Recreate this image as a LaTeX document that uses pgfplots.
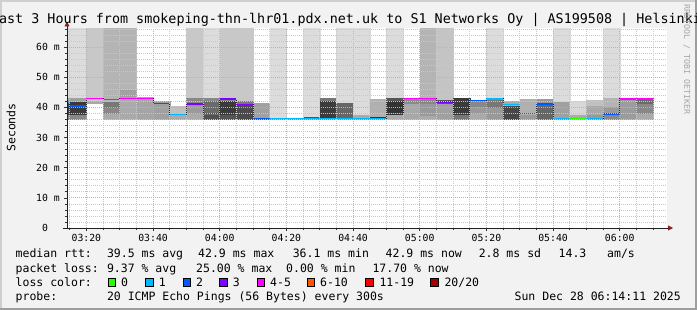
\documentclass[border=0pt]{standalone}
\usepackage{fontspec}
\usepackage{pgfplots}
\pgfplotsset{compat=1.18}
\usetikzlibrary{arrows.meta}
\newfontfamily\rrd{DejaVu Sans Mono}
\definecolor{bg}{RGB}{242,242,242}
\definecolor{shadeA}{RGB}{207,207,207}
\definecolor{shadeB}{RGB}{158,158,158}
\definecolor{arrowc}{RGB}{140,30,30}
\definecolor{mgrid}{RGB}{242,155,155}
\definecolor{ngrid}{RGB}{200,200,200}
\definecolor{l0}{HTML}{26FF00}
\definecolor{l1}{HTML}{00B8FF}
\definecolor{l2}{HTML}{0059FF}
\definecolor{l3}{HTML}{7E00FF}
\definecolor{l4}{HTML}{FF00FF}
\definecolor{l6}{HTML}{FF5500}
\definecolor{l11}{HTML}{FF0000}
\definecolor{l20}{HTML}{A10000}
% smoke band: x0 x1 lo hi gray(0-255)
\newcommand\B[5]{\addplot[forget plot,draw={rgb,255:red,#5;green,#5;blue,#5},line width=0.2pt,fill={rgb,255:red,#5;green,#5;blue,#5}] coordinates {(#1,#3) (#2,#3) (#2,#4) (#1,#4)};}
% median segment: x0 x1 value color
\newcommand\M[4]{\addplot[forget plot,color=#4,line width=1.6pt] coordinates {(#1,#3) (#2,#3)};}
\newcommand\tickfont{\rrd\fontsize{9.8pt}{11pt}\selectfont}
\newcommand\legfont{\rrd\fontsize{11.5pt}{13pt}\selectfont}
\begin{document}
\begin{tikzpicture}
\fill[bg] (0,0) rectangle (697pt,310pt);
\fill[shadeA] (0,0) rectangle (2pt,310pt);
\fill[shadeA] (0,308pt) rectangle (697pt,310pt);
\fill[shadeB] (695pt,0) rectangle (697pt,310pt);
\fill[shadeB] (0,0) rectangle (697pt,2pt);
\begin{axis}[
  at={(67pt,82pt)}, anchor=south west,
  width=600pt, height=200pt, scale only axis,
  xmin=14.18, xmax=194.18, ymin=0, ymax=66.3,
  axis lines=left, axis on top,
  axis background/.style={fill=white},
  x axis line style={draw={rgb,255:red,32;green,32;blue,32}, line width=0.8pt, -{Triangle[length=5pt,width=5pt,color=arrowc]}, shorten >=-6pt, shorten <=-4pt},
  y axis line style={draw={rgb,255:red,32;green,32;blue,32}, line width=0.8pt, -{Triangle[length=5pt,width=5pt,color=arrowc]}, shorten >=-6.5pt},
  xtick={20,40,...,180},
  xticklabels={\mbox{03:20},\mbox{03:40},\mbox{04:00},\mbox{04:20},\mbox{04:40},\mbox{05:00},\mbox{05:20},\mbox{05:40},\mbox{06:00}},
  minor xtick={15,25,30,35,45,50,55,65,70,75,85,90,95,105,110,115,125,130,135,145,150,155,165,170,175,185,190},
  ytick={0,10,...,60},
  yticklabels={\mbox{0\hphantom{\ m}},\mbox{10 m},\mbox{20 m},\mbox{30 m},\mbox{40 m},\mbox{50 m},\mbox{60 m}},
  minor ytick={2,4,6,8,12,14,16,18,22,24,26,28,32,34,36,38,42,44,46,48,52,54,56,58,62,64,66},
  grid=both,
  major grid style={draw=mgrid, line width=0.7pt, dash pattern=on 1pt off 1pt},
  minor grid style={draw=ngrid, line width=0.7pt, dash pattern=on 1pt off 1pt},
  tick style={draw=black!80, line width=0.6pt},
  major tick length=3pt, minor tick length=2pt, tick align=outside,
  xticklabel style={font=\tickfont, anchor=north, inner sep=0pt, yshift=-3pt},
  yticklabel style={font=\tickfont, anchor=east, inner sep=0pt, xshift=-4pt},
]
% ---- smoke ----
\B{14.18}{15}{36.1}{37.6}{136}\B{14.18}{15}{37.6}{42.2}{64}\B{14.18}{15}{42.2}{43.3}{160}\B{14.18}{15}{43.3}{66.3}{220}
\B{15}{20}{36.1}{37.6}{136}\B{15}{20}{37.6}{42.2}{58}\B{15}{20}{42.2}{43.3}{160}\B{15}{20}{43.3}{66.3}{220}
\B{20}{25}{41.4}{42.5}{168}\B{20}{25}{42.5}{66.3}{200}
\B{25}{30}{36.1}{38.0}{170}\B{25}{30}{38.0}{40.0}{136}\B{25}{30}{40.0}{42.2}{120}\B{25}{30}{42.2}{66.3}{180}
\B{30}{35}{36.1}{43.0}{170}\B{30}{35}{43.0}{46.1}{162}\B{30}{35}{46.1}{66.3}{180}
\B{35}{40}{36.1}{43.3}{165}
\B{40}{45}{36.1}{42.0}{160}
\B{45}{50}{36.1}{37.6}{170}\B{45}{50}{37.6}{40.3}{192}
\B{50}{55}{36.1}{38.0}{170}\B{50}{55}{38.0}{41.5}{154}\B{50}{55}{41.5}{43.3}{136}\B{50}{55}{43.3}{66.3}{200}
\B{55}{60}{36.1}{37.8}{80}\B{55}{60}{37.8}{42.5}{106}\B{55}{60}{42.5}{43.4}{136}\B{55}{60}{43.4}{66.3}{220}
\B{60}{65}{36.1}{37.6}{85}\B{60}{65}{37.6}{42.5}{58}\B{60}{65}{42.5}{43.3}{136}\B{60}{65}{43.3}{66.3}{200}
\B{65}{70}{36.1}{41.0}{74}\B{65}{70}{41.0}{42.5}{119}\B{65}{70}{42.5}{66.3}{200}
\B{70}{75}{36.1}{41.4}{160}
\B{75}{80}{36.1}{66.3}{220}
\B{85}{90}{36.1}{37.1}{85}\B{85}{90}{37.1}{66.3}{220}
\B{90}{95}{36.2}{42.5}{60}\B{90}{95}{42.5}{43.0}{119}
\B{95}{100}{36.2}{41.6}{102}\B{95}{100}{41.6}{66.3}{220}
\B{100}{105}{36.2}{37.6}{170}\B{100}{105}{37.6}{66.3}{220}
\B{105}{110}{36.2}{37.0}{51}\B{105}{110}{37.0}{42.8}{176}
\B{110}{115}{36.1}{37.8}{170}\B{110}{115}{37.8}{42.5}{51}\B{110}{115}{42.5}{43.4}{85}\B{110}{115}{43.4}{66.3}{220}
\B{115}{120}{36.1}{41.5}{168}\B{115}{120}{41.5}{42.9}{138}
\B{120}{125}{36.1}{37.5}{170}\B{120}{125}{37.5}{41.5}{153}\B{120}{125}{41.5}{42.9}{136}\B{120}{125}{42.9}{66.3}{180}
\B{125}{130}{36.1}{41.5}{160}\B{125}{130}{41.5}{42.8}{85}\B{125}{130}{42.8}{66.3}{196}
\B{130}{135}{36.1}{37.8}{119}\B{130}{135}{37.8}{43.1}{58}
\B{135}{140}{36.1}{38.0}{170}\B{135}{140}{38.0}{40.5}{153}\B{135}{140}{40.5}{42.2}{136}
\B{140}{145}{36.1}{40.0}{153}\B{140}{145}{40.0}{42.7}{119}\B{140}{145}{42.7}{66.3}{220}
\B{145}{150}{36.1}{40.9}{71}\B{145}{150}{40.9}{42.0}{170}
\B{150}{155}{36.1}{37.8}{153}\B{150}{155}{37.8}{42.8}{176}
\B{155}{160}{36.1}{41.0}{102}\B{155}{160}{41.0}{42.8}{153}
\B{160}{165}{36.2}{42.2}{160}\B{160}{165}{42.2}{66.3}{220}
\B{165}{170}{36.2}{37.6}{170}\B{165}{170}{37.6}{42.2}{216}
\B{170}{175}{36.2}{37.6}{153}\B{170}{175}{37.6}{40.9}{168}\B{170}{175}{40.9}{42.3}{192}
\B{175}{180}{36.1}{37.8}{136}\B{175}{180}{37.8}{40.5}{153}\B{175}{180}{40.5}{43.3}{180}\B{175}{180}{43.3}{66.3}{220}
\B{180}{185}{36.1}{42.5}{156}
\B{185}{190}{36.1}{38.0}{170}\B{185}{190}{38.0}{41.5}{136}\B{185}{190}{41.5}{43.0}{106}
% ---- median step line (black connectors) ----
\addplot[forget plot, const plot, color=black!85, line width=0.8pt] coordinates {
(14.18,41.7) (15,40.4) (20,42.9) (25,42.6) (30,42.9) (35,42.9) (40,41.3) (45,37.6) (50,41.1) (55,38.0)
(60,42.7) (65,41.0) (70,36.2) (75,36.2) (80,36.2) (85,36.2) (90,36.2) (95,36.2) (100,36.2) (105,36.2)
(110,38.0) (115,42.9) (120,42.9) (125,41.8) (130,38.0) (135,42.3) (140,42.8) (145,41.0) (150,38.0) (155,41.1)
(160,36.2) (165,36.2) (170,36.2) (175,37.7) (180,42.8) (185,42.9) (190,42.9)};
% ---- median coloured by loss ----
\M{14.18}{15}{41.7}{l1}\M{15}{20}{40.4}{l2}\M{20}{25}{42.9}{l4}\M{25}{30}{42.6}{l4}\M{30}{35}{42.9}{l4}
\M{35}{40}{42.9}{l4}\M{40}{45}{41.3}{l2}\M{45}{50}{37.6}{l1}\M{50}{55}{41.1}{l3}\M{55}{60}{38.0}{l2}
\M{60}{65}{42.7}{l3}\M{65}{70}{41.0}{l3}\M{70}{75}{36.2}{l2}\M{75}{80}{36.2}{l1}\M{80}{85}{36.2}{l1}
\M{85}{90}{36.2}{l1}\M{90}{95}{36.2}{l1}\M{95}{100}{36.2}{l1}\M{100}{105}{36.2}{l1}\M{105}{110}{36.2}{l1}
\M{110}{115}{38.0}{l2}\M{115}{120}{42.9}{l4}\M{120}{125}{42.9}{l4}\M{125}{130}{41.8}{l3}\M{130}{135}{38.0}{l2}
\M{135}{140}{42.3}{l2}\M{140}{145}{42.8}{l1}\M{145}{150}{41.0}{l1}\M{150}{155}{38.0}{l2}\M{155}{160}{41.1}{l2}
\M{160}{165}{36.2}{l1}\M{165}{170}{36.2}{l0}\M{170}{175}{36.2}{l1}\M{175}{180}{37.7}{l2}\M{180}{185}{42.8}{l4}
\M{185}{190}{42.9}{l4}
\end{axis}
% ---- title and labels ----
\node[anchor=base, inner sep=0pt, font=\rrd\fontsize{13.4pt}{15pt}\selectfont] at (346pt,286pt) {Last 3 Hours from smokeping-thn-lhr01.pdx.net.uk to S1 Networks Oy | AS199508 | Helsinki};
\node[anchor=base, rotate=90, inner sep=0pt, font=\legfont] at (15.5pt,182.5pt) {Seconds};
\node[anchor=base west, rotate=-90, inner sep=0pt, font=\rrd\fontsize{8.3pt}{9pt}\selectfont, text=black!35] at (684pt,306pt) {RRDTOOL / TOBI OETIKER};
% ---- legend ----
\begin{scope}[every node/.style={anchor=base west, inner sep=0pt, font=\legfont}]
\node at (15.5pt,52pt) {median rtt:};
\node at (106.8pt,52pt) {39.5 ms avg};
\node at (198pt,52pt) {42.9 ms max};
\node at (292.6pt,52pt) {36.1 ms min};
\node at (385.5pt,52pt) {42.9 ms now};
\node at (478.6pt,52pt) {2.8 ms sd};
\node at (558.5pt,52pt) {14.3};
\node at (607pt,52pt) {am/s};
\node at (15.5pt,37.7pt) {packet loss:};
\node at (106.8pt,37.7pt) {9.37 \% avg};
\node at (196pt,37.7pt) {25.00 \% max};
\node at (286pt,37.7pt) {0.00 \% min};
\node at (372.3pt,37.7pt) {17.70 \% now};
\node at (15.5pt,23.7pt) {loss color:};
\node at (121pt,23.7pt) {0};
\node at (158.6pt,23.7pt) {1};
\node at (196pt,23.7pt) {2};
\node at (232.6pt,23.7pt) {3};
\node at (270pt,23.7pt) {4-5};
\node at (320pt,23.7pt) {6-10};
\node at (379.3pt,23.7pt) {11-19};
\node at (444.3pt,23.7pt) {20/20};
\node at (15.5pt,9.5pt) {probe:};
\node at (106.8pt,9.5pt) {20 ICMP Echo Pings (56 Bytes) every 300s};
\node[anchor=base east] at (681pt,9.5pt) {Sun Dec 28 06:14:11 2025};
\end{scope}
\begin{scope}[line width=0.8pt]
\filldraw[fill=l0, draw=black] (108.2pt,24pt) rectangle ++(7.5pt,7.5pt);
\filldraw[fill=l1, draw=black] (145.8pt,24pt) rectangle ++(7.5pt,7.5pt);
\filldraw[fill=l2, draw=black] (183.2pt,24pt) rectangle ++(7.5pt,7.5pt);
\filldraw[fill=l3, draw=black] (219.8pt,24pt) rectangle ++(7.5pt,7.5pt);
\filldraw[fill=l4, draw=black] (257.2pt,24pt) rectangle ++(7.5pt,7.5pt);
\filldraw[fill=l6, draw=black] (307.2pt,24pt) rectangle ++(7.5pt,7.5pt);
\filldraw[fill=l11, draw=black] (365.5pt,24pt) rectangle ++(7.5pt,7.5pt);
\filldraw[fill=l20, draw=black] (430.5pt,24pt) rectangle ++(7.5pt,7.5pt);
\end{scope}
\pgfresetboundingbox
\path[use as bounding box] (0,0) rectangle (697pt,310pt);
\end{tikzpicture}
\end{document}
